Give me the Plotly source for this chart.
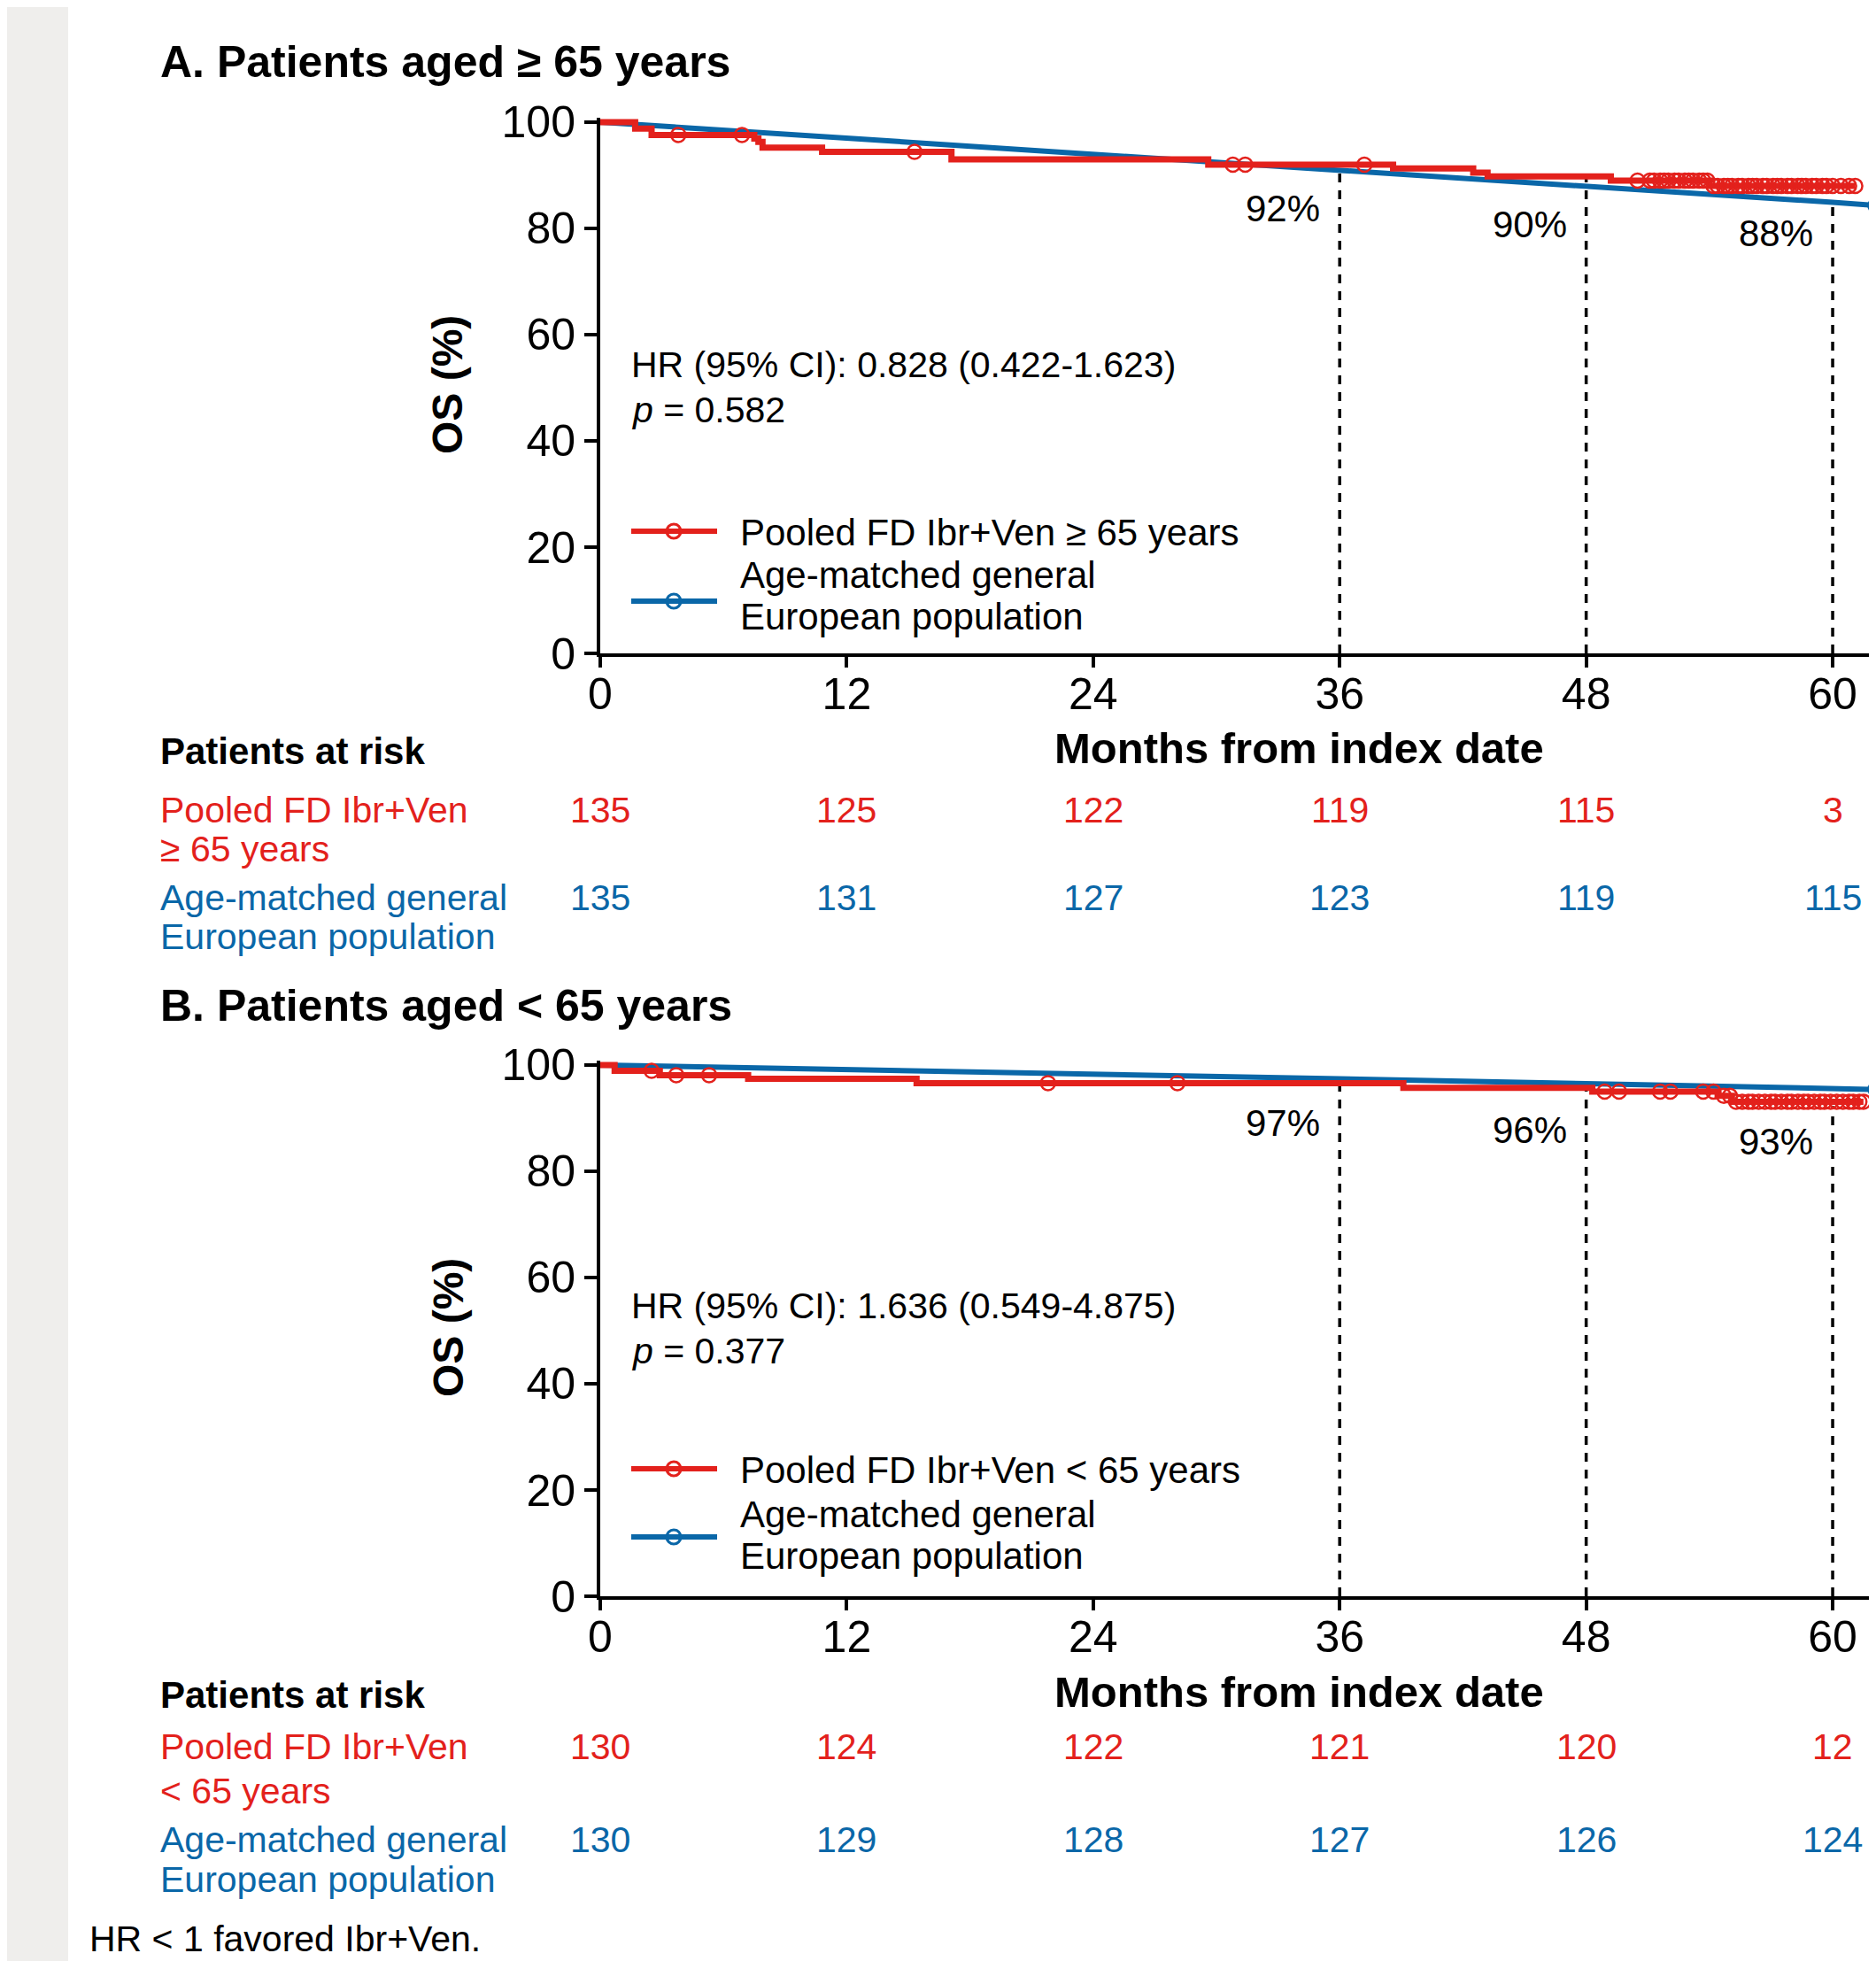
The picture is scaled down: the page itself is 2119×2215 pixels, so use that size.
import plotly.graph_objects as go

W, H = 2119, 2215
OX, OY = 8, 8  # page offset of the plot div (browser body margin)
RED = "#E3211C"
BLUE = "#0A67A8"
FONT = "Liberation Sans, Arial, sans-serif"

# ---------------- data ----------------
tick_months = [0, 12, 24, 36, 48, 60]
y_ticks = [0, 20, 40, 60, 80, 100]
milestones = [36, 48, 60]

# Panel A: >= 65 years
a_km_t = [0, 1.7, 2.5, 7.5, 7.7, 7.9, 10.8, 17.1, 29.6, 38.6, 42.5, 43.2, 49.2, 54.0, 61.1]
a_km_s = [100, 98.8, 97.6, 96.9, 96.3, 95.2, 94.4, 93.0, 92.0, 91.3, 90.5, 89.8, 89.0, 88.0, 88.0]
a_cens_t = [3.8, 6.9, 15.3, 30.8, 31.4, 37.2, 50.5, 51.1, 51.3, 51.6, 51.8, 52.0, 52.3, 52.5,
            52.8, 53.0, 53.2, 53.5, 53.7, 53.9, 54.2, 54.4, 54.7, 54.9, 55.1, 55.4, 55.6, 55.9,
            56.1, 56.3, 56.6, 56.8, 57.1, 57.3, 57.5, 57.8, 58.0, 58.3, 58.5, 58.7, 59.0, 59.2,
            59.5, 59.7, 60.0, 60.4, 60.8, 61.1]
a_gen_t = [0, 12, 24, 36, 48, 60, 62.1]
a_gen_s = [100, 97.0, 94.1, 91.0, 87.9, 84.9, 84.3]
a_pct = ["92%", "90%", "88%"]
a_pct_y = [83.7, 80.8, 79.0]
a_dash_top = [91.4, 89.6, 85.2]
a_risk_fd = [135, 125, 122, 119, 115, 3]
a_risk_gen = [135, 131, 127, 123, 119, 115]

# Panel B: < 65 years
b_km_t = [0, 0.7, 2.9, 7.2, 15.4, 39.1, 48.3, 54.4, 55.1, 61.5]
b_km_s = [100, 98.9, 98.1, 97.4, 96.6, 95.7, 95.0, 94.2, 93.1, 93.1]
b_cens_t = [2.5, 3.7, 5.3, 21.8, 28.1, 48.9, 49.6, 51.6, 52.1, 53.7, 54.2, 54.7, 55.0, 55.3,
            55.6, 55.9, 56.1, 56.4, 56.7, 57.0, 57.2, 57.5, 57.8, 58.0, 58.3, 58.6, 58.8, 59.1,
            59.4, 59.6, 59.9, 60.2, 60.5, 60.8, 61.0, 61.3, 61.5]
b_gen_t = [0, 12, 24, 36, 48, 60, 62.1]
b_gen_s = [100, 99.2, 98.3, 97.4, 96.5, 95.6, 95.4]
b_pct = ["97%", "96%", "93%"]
b_pct_y = [89.1, 87.7, 85.6]
b_dash_top = [96.2, 95.4, 92.3]
b_risk_fd = [130, 124, 122, 121, 120, 12]
b_risk_gen = [130, 129, 128, 127, 126, 124]

hr_a = ["HR (95% CI): 0.828 (0.422-1.623)", "<i>p</i> = 0.582"]
hr_b = ["HR (95% CI): 1.636 (0.549-4.875)", "<i>p</i> = 0.377"]


def km_at(t, times, surv):
    v = surv[0]
    for tt, ss in zip(times, surv):
        if tt <= t:
            v = ss
    return v


def px(x):
    return (x - OX) / W


def py(y):
    return 1 - (y - OY) / H


fig = go.Figure()
annotations = []
shapes = []

# gray band on the left
shapes.append(dict(type="rect", xref="paper", yref="paper", x0=0, x1=px(77), y0=0, y1=1,
                   fillcolor="#EFEEEC", line=dict(width=0), layer="below"))

panels = [
    dict(xa="x", ya="y", km_t=a_km_t, km_s=a_km_s, cens=a_cens_t, gen_t=a_gen_t, gen_s=a_gen_s,
         pct=a_pct, pct_y=a_pct_y, dash=a_dash_top, rfd=a_risk_fd, rgen=a_risk_gen, hr=hr_a,
         title="A. Patients aged ≥ 65 years", title_y=70,
         leg_fd="Pooled FD Ibr+Ven ≥ 65 years", risk_l2="≥ 65 years",
         os_y=435, hr_y=(412, 463), leg_y=(600, 679), leg_txt=(602, 650, 697),
         mlabel_y=845, par_y=848, rfd_y=(915, 959), rgen_y=(1014, 1058)),
    dict(xa="x2", ya="y2", km_t=b_km_t, km_s=b_km_s, cens=b_cens_t, gen_t=b_gen_t, gen_s=b_gen_s,
         pct=b_pct, pct_y=b_pct_y, dash=b_dash_top, rfd=b_risk_fd, rgen=b_risk_gen, hr=hr_b,
         title="B. Patients aged < 65 years", title_y=1136,
         leg_fd="Pooled FD Ibr+Ven < 65 years", risk_l2="< 65 years",
         os_y=1500, hr_y=(1475, 1526), leg_y=(1659, 1736), leg_txt=(1660, 1710, 1757),
         mlabel_y=1911, par_y=1914, rfd_y=(1973, 2023), rgen_y=(2078, 2123)),
]

for p in panels:
    xa, ya = p["xa"], p["ya"]
    for m, top in zip(milestones, p["dash"]):
        fig.add_trace(go.Scatter(x=[m, m], y=[0, top], mode="lines", xaxis=xa, yaxis=ya,
                                 line=dict(color="black", width=3.5, dash="10px,9px"),
                                 showlegend=False, hoverinfo="skip"))
    fig.add_trace(go.Scatter(x=p["gen_t"], y=p["gen_s"], mode="lines", xaxis=xa, yaxis=ya,
                             line=dict(color=BLUE, width=6), showlegend=False))
    fig.add_trace(go.Scatter(x=[p["gen_t"][-1]], y=[p["gen_s"][-1]], mode="markers",
                             xaxis=xa, yaxis=ya, cliponaxis=False,
                             marker=dict(symbol="circle-open", size=16, color=BLUE,
                                         line=dict(width=3, color=BLUE)),
                             showlegend=False))
    fig.add_trace(go.Scatter(x=p["km_t"], y=p["km_s"], mode="lines", line_shape="hv",
                             xaxis=xa, yaxis=ya, line=dict(color=RED, width=7),
                             showlegend=False))
    fig.add_trace(go.Scatter(x=p["cens"], y=[km_at(t, p["km_t"], p["km_s"]) for t in p["cens"]],
                             mode="markers", xaxis=xa, yaxis=ya, cliponaxis=False,
                             marker=dict(symbol="circle-open", size=16, color=RED,
                                         line=dict(width=2.5, color=RED)),
                             showlegend=False))
    for m, txt, yv in zip(milestones, p["pct"], p["pct_y"]):
        annotations.append(dict(x=m, y=yv, xref=xa, yref=ya, text=txt, showarrow=False,
                                xanchor="right", xshift=-20, yanchor="middle",
                                font=dict(size=42, color="black", family=FONT)))
    annotations.append(dict(x=px(179), y=py(p["title_y"]), xref="paper", yref="paper",
                            text="<b>" + p["title"] + "</b>", showarrow=False, xanchor="left",
                            yanchor="middle", font=dict(size=50, color="black", family=FONT)))
    annotations.append(dict(x=px(506), y=py(p["os_y"]), xref="paper", yref="paper",
                            text="<b>OS (%)</b>", textangle=-90, showarrow=False,
                            xanchor="center", yanchor="middle",
                            font=dict(size=48, color="black", family=FONT)))
    for line, yy in zip(p["hr"], p["hr_y"]):
        annotations.append(dict(x=px(711), y=py(yy), xref="paper", yref="paper", text=line,
                                showarrow=False, xanchor="left", yanchor="middle",
                                font=dict(size=41, color="black", family=FONT)))
    for col, yy in zip([RED, BLUE], p["leg_y"]):
        shapes.append(dict(type="line", xref="paper", yref="paper", x0=px(713), x1=px(810),
                           y0=py(yy), y1=py(yy), line=dict(color=col, width=6)))
        shapes.append(dict(type="circle", xref="paper", yref="paper",
                           x0=px(761 - 8), x1=px(761 + 8), y0=py(yy + 8), y1=py(yy - 8),
                           line=dict(color=col, width=3)))
    for txt, yy in zip([p["leg_fd"], "Age-matched general", "European population"], p["leg_txt"]):
        annotations.append(dict(x=px(834), y=py(yy), xref="paper", yref="paper", text=txt,
                                showarrow=False, xanchor="left", yanchor="middle",
                                font=dict(size=42, color="black", family=FONT)))
    annotations.append(dict(x=px(1467), y=py(p["mlabel_y"]), xref="paper", yref="paper",
                            text="<b>Months from index date</b>", showarrow=False,
                            xanchor="center", yanchor="middle",
                            font=dict(size=49, color="black", family=FONT)))
    annotations.append(dict(x=px(179), y=py(p["par_y"]), xref="paper", yref="paper",
                            text="<b>Patients at risk</b>", showarrow=False, xanchor="left",
                            yanchor="middle", font=dict(size=42, color="black", family=FONT)))
    for txt, yy, col in [("Pooled FD Ibr+Ven", p["rfd_y"][0], RED),
                         (p["risk_l2"], p["rfd_y"][1], RED),
                         ("Age-matched general", p["rgen_y"][0], BLUE),
                         ("European population", p["rgen_y"][1], BLUE)]:
        annotations.append(dict(x=px(179), y=py(yy), xref="paper", yref="paper", text=txt,
                                showarrow=False, xanchor="left", yanchor="middle",
                                font=dict(size=41, color=col, family=FONT)))
    for vals, yy, col in [(p["rfd"], p["rfd_y"][0], RED), (p["rgen"], p["rgen_y"][0], BLUE)]:
        for m, v in zip(tick_months, vals):
            annotations.append(dict(x=m, y=py(yy), xref=xa, yref="paper", text=str(v),
                                    showarrow=False, xanchor="center", yanchor="middle",
                                    font=dict(size=41, color=col, family=FONT)))

annotations.append(dict(x=px(99), y=py(2190), xref="paper", yref="paper",
                        text="HR < 1 favored Ibr+Ven.", showarrow=False, xanchor="left",
                        yanchor="middle", font=dict(size=41, color="black", family=FONT)))

xaxis_common = dict(range=[0, 62.11], domain=[px(678), px(2119)], tickvals=tick_months,
                    showline=True, linecolor="black", linewidth=4, ticks="outside",
                    ticklen=12, tickwidth=3.5, tickcolor="black", showgrid=False,
                    zeroline=False, automargin=False, ticklabelstandoff=-13,
                    tickfont=dict(size=50, color="black", family=FONT))
yaxis_common = dict(range=[0, 100.83], tickvals=y_ticks, showline=True, linecolor="black",
                    linewidth=4, ticks="outside", ticklen=14, tickwidth=3.5, tickcolor="black",
                    showgrid=False, zeroline=False, automargin=False,
                    tickfont=dict(size=50, color="black", family=FONT))

fig.update_layout(
    width=W, height=H, autosize=False,
    margin=dict(l=0, r=0, t=0, b=0, pad=0, autoexpand=False),
    paper_bgcolor="white", plot_bgcolor="rgba(0,0,0,0)",
    font=dict(family=FONT, color="black"),
    xaxis=dict(**xaxis_common, anchor="y"),
    yaxis=dict(**yaxis_common, anchor="x", domain=[py(738), py(133)]),
    xaxis2=dict(**xaxis_common, anchor="y2"),
    yaxis2=dict(**yaxis_common, anchor="x2", domain=[py(1803), py(1198)]),
    annotations=annotations,
    shapes=shapes,
    showlegend=False,
)

fig.write_html("out.html")
